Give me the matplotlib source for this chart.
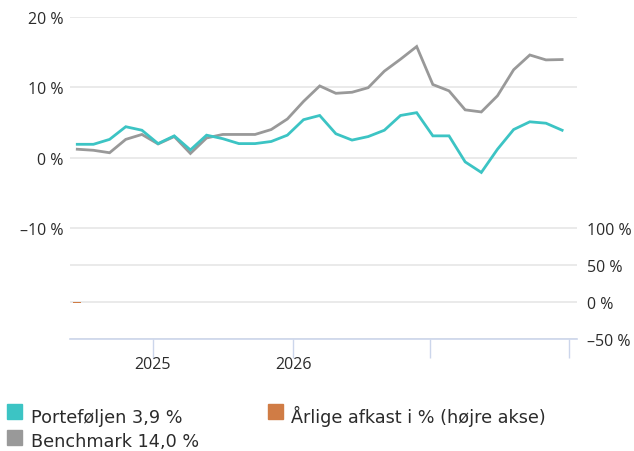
import matplotlib.pyplot as plt
from matplotlib.patches import Rectangle

# data (one point per period)
portefolje = [1.9, 1.9, 2.6, 4.4, 3.9, 2.0, 3.1, 1.1, 3.2, 2.7, 2.0, 2.0, 2.3, 3.2, 5.4, 6.0,
              3.4, 2.5, 3.0, 3.9, 6.0, 6.4, 3.1, 3.1, -0.6, -2.1, 1.2, 4.0, 5.1, 4.9, 3.9]
benchmark = [1.2, 1.05, 0.7, 2.6, 3.3, 1.95, 3.0, 0.6, 2.8, 3.3, 3.3, 3.3, 4.0, 5.5, 8.0, 10.2,
             9.15, 9.3, 9.95, 12.3, 14.0, 15.8, 10.4, 9.5, 6.8, 6.5, 8.8, 12.5, 14.6, 13.9, 13.95]
aarlige_x = [0]
aarlige = [-2.0]

left_ticks = [-10, 0, 10, 20]
right_ticks = [-50, 0, 50, 100]
year_pos = [4.68, 13.35, 21.83, 30.41]
year_labels = ["2025", "2026", "", ""]

teal = "#3cc4c4"
grey = "#999999"
orange = "#d07c45"
grid_col = "#e6e6e6"
axis_col = "#ccd6eb"
txt = "#2b2b2b"
tick_font = "Open Sans"

fig = plt.figure(figsize=(6.34, 4.52), dpi=100)
W, H = 634, 452

def fig_box(x0, y0, x1, y1):
    return [x0 / W, 1 - y1 / H, (x1 - x0) / W, (y1 - y0) / H]

def pct(v):
    return f"{v}\u00a0%".replace("-", "\u2013")

x = list(range(len(portefolje)))
xlim = (-0.45, 30.92)

# top panel: returns
ax = fig.add_axes(fig_box(70, 18, 577, 229))
ax.plot(x, benchmark, color=grey, lw=2.0, solid_joinstyle="miter", zorder=3)
ax.plot(x, portefolje, color=teal, lw=2.0, solid_joinstyle="miter", zorder=4)
ax.set_xlim(*xlim)
ax.set_ylim(-10, 20)
ax.set_yticks(left_ticks)
ax.set_yticklabels([pct(v) for v in left_ticks], fontfamily=tick_font, fontsize=11.5, color=txt)
ax.set_xticks([])
ax.grid(axis="y", color=grid_col, lw=1.2)
ax.set_axisbelow(True)
ax.tick_params(axis="y", length=0, pad=5)
for s in ax.spines.values():
    s.set_visible(False)

# bottom panel: yearly returns (right axis)
ax2 = fig.add_axes(fig_box(70, 229, 577, 340))
ax2.bar(aarlige_x, aarlige, width=0.48, color=orange, zorder=3)
ax2.set_xlim(*xlim)
ax2.set_ylim(-50, 100)
ax2.set_yticks(right_ticks)
ax2.set_yticklabels([pct(v) for v in right_ticks], fontfamily=tick_font, fontsize=11.5, color=txt)
ax2.yaxis.tick_right()
ax2.tick_params(axis="y", length=0, pad=7)
ax2.grid(axis="y", color=grid_col, lw=1.2)
ax2.set_axisbelow(True)
ax2.set_xticks(year_pos)
ax2.set_xticklabels(year_labels, fontfamily=tick_font, fontsize=11.5, color=txt)
ax2.tick_params(axis="x", length=14, width=1, color=axis_col, pad=-1.5)
for name, s in ax2.spines.items():
    s.set_visible(name == "bottom")
ax2.spines["bottom"].set_color(axis_col)
ax2.spines["bottom"].set_linewidth(1.2)

# legend
legend_items = [
    (7, 405, teal, 31, 423, "Porteføljen 3,9 %"),
    (7, 431, grey, 31, 447, "Benchmark 14,0 %"),
    (268, 405, orange, 291, 423, "Årlige afkast i % (højre akse)"),
]
for sx, sy, col, tx, ty, label in legend_items:
    fig.patches.append(Rectangle((sx / W, 1 - (sy + 15) / H), 15 / W, 15 / H,
                                 transform=fig.transFigure, color=col))
    fig.text(tx / W, 1 - ty / H, label, fontfamily="DejaVu Sans", fontsize=12.7,
             color=txt, va="baseline", ha="left")

fig.savefig("out.png", dpi=100)
